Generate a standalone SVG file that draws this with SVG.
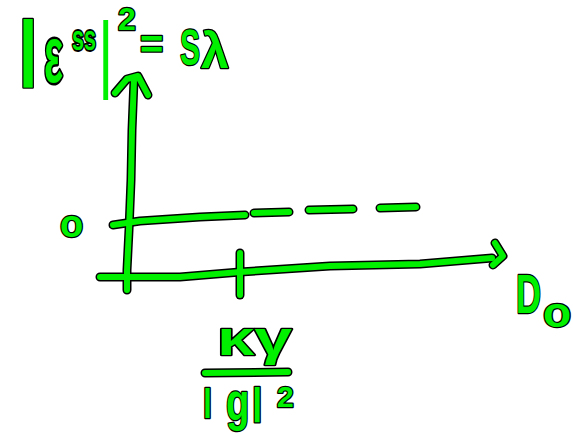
<svg xmlns="http://www.w3.org/2000/svg" xmlns:xlink="http://www.w3.org/1999/xlink" width="573" height="437" viewBox="0 0 573 437">
<style>
.ol{fill:none;stroke:#000;stroke-width:9;stroke-linecap:round;stroke-linejoin:round}
.fg{fill:none;stroke:#00f000;stroke-width:6;stroke-linecap:round;stroke-linejoin:round}
.t{font-family:"Liberation Sans","DejaVu Sans",sans-serif;font-weight:bold;fill:#00f000;stroke:#000;stroke-width:2.5;paint-order:stroke;stroke-linejoin:round}
.thin{font-family:"Liberation Sans","DejaVu Sans",sans-serif;fill:#00f000}
</style>
<defs>
<g id="axes-shape">
<path d="M127,290 L127,270 L129,230 L131,180 L132,130 L134,80"/>
<path d="M115,93 L127,79 L138,76 L148,95"/>
<path d="M100,277 L180,277 L240,272 L330,266 L420,264 L480,259 L492,258"/>
<path d="M495,243 L503,256 L493,265"/>
<path d="M240,253 L240,295"/>
<path d="M113,225 L140,221 L200,217 L245,215"/>
<path d="M254,213 L289,212"/>
<path d="M309,210 L353,209"/>
<path d="M380,208 L416,207"/>
<path d="M205,373 L288,372"/>
</g>
</defs>
<g id="connectors">
<use xlink:href="#axes-shape" class="ol"/>
<use xlink:href="#axes-shape" class="fg"/>
</g>
<g id="title">
<text class="t" x="18" y="72" font-size="72">|</text>
<text class="t" transform="translate(44,82) scale(1,2)" font-size="40">ε</text>
<text class="t" transform="translate(72,50) scale(0.9,1.5)" font-size="24">ss</text>
<text class="thin" transform="translate(98,82) scale(0.7,1)" font-size="85">|</text>
<text class="t" x="118" y="30" font-size="32">2</text>
<text class="t" x="140" y="58" font-size="40">=</text>
<text class="t" transform="translate(180,65) scale(0.6,1)" font-size="50">S</text>
<text class="t" x="201" y="68" font-size="50">λ</text>
</g>
<g id="label-o">
<text class="t" x="60" y="237" font-size="38">o</text>
</g>
<g id="label-D0">
<text class="t" transform="translate(516,313) scale(0.62,1)" font-size="56">D</text>
<text class="t" transform="translate(543,327) scale(1.1,1)" font-size="42">o</text>
</g>
<g id="label-fraction">
<text class="t" transform="translate(217,355) scale(1.4,1)" font-size="48">κγ</text>
<text class="t" x="203" y="411" font-size="32">|</text>
<text class="t" transform="translate(226,420) scale(0.75,1)" font-size="51">g</text>
<text class="t" x="252" y="414" font-size="37">|</text>
<text class="t" x="277" y="407" font-size="30">2</text>
</g>
</svg>
